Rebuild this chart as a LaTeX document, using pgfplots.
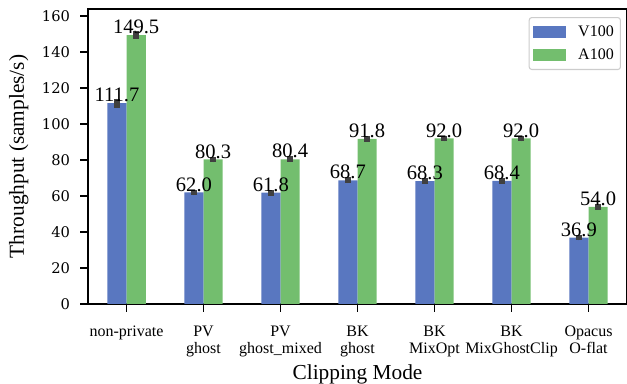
\documentclass[border=0pt]{standalone}
\usepackage{pgfplots}
\pgfplotsset{compat=1.18}
\usepackage{pgfplotstable}
\usepackage{fontspec}
\setmainfont{Liberation Serif}
\newfontfamily\tickfont{DejaVu Serif}
\usetikzlibrary{calc}
\definecolor{cblue}{RGB}{89,119,192}
\definecolor{cgreen}{RGB}{115,190,110}
\definecolor{errc}{RGB}{64,64,64}

\pgfplotstableread{
x v ve a ae
0 111.7 2.5 149.5 2.1
1 62.0 1.6 80.3 1.6
2 61.8 1.6 80.4 1.6
3 68.7 1.6 91.8 1.6
4 68.3 1.6 92.0 1.6
5 68.4 1.6 92.0 1.6
6 36.9 1.6 54.0 1.6
}\data

\begin{document}
\begin{tikzpicture}
\begin{axis}[
  name=ax,
  scale only axis,
  width=404pt, height=221pt,
  xmin=-0.5, xmax=6.5, ymin=0, ymax=164,
  ybar=0pt, bar width=14.4pt,
  axis line style={line width=1.1pt},
  tick align=outside,
  major tick length=6pt,
  tick style={line width=1.1pt, black},
  xtick pos=bottom, ytick pos=left,
  xtick={0,1,2,3,4,5,6},
  xticklabels={non-private, {PV\\ghost}, {PV\\ghost\_mixed}, {BK\\ghost}, {BK\\MixOpt}, {BK\\MixGhostClip}, {Opacus\\O-flat}},
  xticklabel style={align=center, font=\fontsize{12}{12.75}\selectfont, anchor=north, yshift=-7pt},
  ytick={0,20,...,160},
  yticklabel style={font=\fontsize{11}{12}\tickfont, xshift=-4pt},
  /pgf/number format/assume math mode=true,
  xlabel={Clipping Mode},
  ylabel={Throughput (samples/s)},
  xlabel style={font=\fontsize{16}{18}\selectfont, yshift=1pt},
  ylabel style={font=\fontsize{16}{18}\selectfont, at={(rel axis cs:0,0.5)}, anchor=center, yshift=52pt},
  nodes near coords={\pgfmathprintnumber[fixed,fixed zerofill,precision=1,assume math mode=true]{\pgfplotspointmeta}},
  every node near coord/.append style={font=\fontsize{15.4}{18}\selectfont, anchor=base, yshift=1pt, black},
  error bars/y dir=both, error bars/y explicit,
  error bars/error mark=none,
  error bars/error bar style={line width=4.5pt, color=errc},
  legend style={at={(1,1)}, anchor=north east, xshift=-4.5pt, yshift=-6pt,
    draw=black!20, line width=0.8pt, rounded corners=2pt,
    font=\fontsize{12}{14}\selectfont, row sep=4pt, column sep=7pt,
    inner xsep=3pt, inner ysep=4pt, cells={anchor=west}},
  legend image code/.code={\fill[#1, sharp corners] (0pt,-4.5pt) rectangle (24.75pt,4.5pt);},
]
\addplot[fill=cblue, draw=none] table[x=x, y=v, y error=ve] {\data};
\addplot[fill=cgreen, draw=none] table[x=x, y=a, y error=ae] {\data};
\legend{V100, A100}
\end{axis}
\pgfresetboundingbox
\path ($(ax.south west)+(-66pt,-60pt)$) rectangle ($(ax.north east)+(0pt,6.75pt)$);
\end{tikzpicture}
\end{document}
